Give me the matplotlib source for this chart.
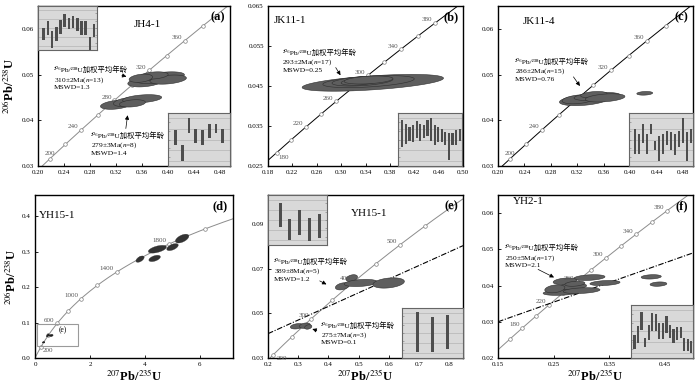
import numpy as np
import matplotlib
matplotlib.use("Agg")
import matplotlib.pyplot as plt
from matplotlib.patches import Rectangle

plt.rcParams["font.family"] = ["Liberation Serif", "Noto Sans CJK SC", "DejaVu Sans"]
plt.rcParams["mathtext.fontset"] = "stix"

# decay constants (1/yr) for the concordia curve
L238 = 1.55125e-10
L235 = 9.8485e-10

# ─── data ────────────────────────────────────────────────────────────────────
# error ellipses: (207/235 centre, 206/238 centre, half-width x, half-height y, rho)
ELL_A = [(0.365, 0.0484, 0.027, 0.0011, 0.35), (0.380, 0.0491, 0.030, 0.0011, 0.35),
         (0.395, 0.0496, 0.030, 0.0010, 0.35), (0.400, 0.0489, 0.028, 0.0010, 0.35),
         (0.378, 0.0498, 0.022, 0.0008, 0.3), (0.358, 0.0492, 0.018, 0.0009, 0.3),
         (0.320, 0.0434, 0.024, 0.0010, 0.35), (0.338, 0.0440, 0.022, 0.0010, 0.35),
         (0.360, 0.0447, 0.030, 0.0009, 0.35), (0.345, 0.0437, 0.020, 0.0008, 0.3)]
ELL_B = [(0.352, 0.0458, 0.116, 0.0021, 0.55), (0.345, 0.0461, 0.075, 0.0015, 0.45),
         (0.335, 0.0462, 0.050, 0.0012, 0.4), (0.330, 0.0461, 0.030, 0.0009, 0.35),
         (0.345, 0.0465, 0.040, 0.0010, 0.35)]
ELL_C = [(0.330, 0.0444, 0.037, 0.0012, 0.35), (0.322, 0.0446, 0.025, 0.0010, 0.35),
         (0.350, 0.0452, 0.035, 0.0009, 0.35), (0.345, 0.0456, 0.020, 0.0007, 0.3),
         (0.362, 0.0449, 0.030, 0.0009, 0.35), (0.422, 0.0459, 0.012, 0.0004, 0.2)]
ELL_D = [(3.82, 0.279, 0.15, 0.0090, 0.55), (4.45, 0.307, 0.33, 0.0110, 0.55),
         (4.35, 0.281, 0.21, 0.0090, 0.5), (5.00, 0.313, 0.21, 0.0100, 0.55),
         (5.35, 0.337, 0.245, 0.0125, 0.55)]
ELL_E = [(0.446, 0.0621, 0.023, 0.0016, 0.35), (0.477, 0.0658, 0.019, 0.0015, 0.35),
         (0.507, 0.0636, 0.055, 0.0016, 0.3), (0.599, 0.0636, 0.052, 0.0023, 0.3),
         (0.296, 0.0442, 0.022, 0.0012, 0.3), (0.322, 0.0445, 0.018, 0.0012, 0.3),
         (0.333, 0.0439, 0.012, 0.0010, 0.3)]
ELL_F = [(0.314, 0.0422, 0.028, 0.0008, 0.3), (0.270, 0.0412, 0.021, 0.0009, 0.3),
         (0.342, 0.0407, 0.027, 0.0007, 0.3), (0.282, 0.0397, 0.027, 0.0009, 0.3),
         (0.264, 0.0381, 0.033, 0.0008, 0.3), (0.300, 0.0386, 0.033, 0.0008, 0.3),
         (0.252, 0.0391, 0.018, 0.0011, 0.3), (0.288, 0.0405, 0.018, 0.0007, 0.3),
         (0.425, 0.0424, 0.018, 0.0006, 0.2), (0.438, 0.0404, 0.015, 0.0006, 0.2)]

# concordia age marks (Ma) and which ones carry a label
MARKS_A = [200, 220, 240, 260, 280, 300, 320, 340, 360, 380]
LABELS_A = [200, 240, 280, 320, 360]
MARKS_B = [180, 200, 220, 240, 260, 280, 300, 320, 340, 360, 380]
LABELS_B = [180, 220, 260, 300, 340, 380]
MARKS_C = [200, 220, 240, 260, 280, 300, 320, 340, 360, 380]
LABELS_C = [200, 240, 320, 360]
MARKS_D = [200, 400, 600, 800, 1000, 1200, 1400, 1600, 1800, 2000]
LABELS_D = [200, 600, 1000, 1400, 1800]
MARKS_E = [200, 250, 300, 350, 400, 450, 500, 550, 600]
LABELS_E = [200, 300, 400, 500]
MARKS_F = [160, 180, 200, 220, 240, 260, 280, 300, 320, 340, 360, 380]
LABELS_F = [180, 220, 260, 300, 340, 380]

# discordia (intercept, slope) in 207/235 vs 206/238 space
DISC_E = (0.02868, 0.0611)
DISC_F = (0.02186, 0.0543)

# weighted-mean insets: (low, high) age of each bar, Ma
BARS_A1 = [(299, 310), (304, 316), (292, 307), (298, 311), (305, 317), (311, 323), (309, 319),
           (310, 321), (307, 319), (304, 316), (304, 316), (290, 302), (302, 314)]
BARS_A2 = [(276, 287), (264, 276), (285, 296), (277, 288), (276, 287), (281, 292), (285, 292),
           (277, 288)]
BARS_B = [(288, 313), (291, 310), (294, 307), (293, 309), (296, 312), (294, 310), (296, 309),
          (298, 313), (294, 315), (290, 309), (293, 307), (293, 305), (290, 302), (276, 301),
          (290, 301), (290, 304), (294, 305)]
BARS_C = [(277, 291), (277, 288), (283, 294), (277, 288), (288, 294), (279, 284), (273, 287),
          (277, 288), (282, 290), (279, 289), (276, 288), (281, 290), (283, 297), (273, 289),
          (283, 291)]
BARS_E1 = [(377, 425), (350, 393), (360, 411), (348, 394), (355, 403)]
BARS_E2 = [(250, 313), (250, 305), (254, 309)]
BARS_F = [(230, 246), (237, 256), (252, 272), (232, 243), (240, 257), (251, 271), (251, 270),
          (242, 260), (242, 260), (248, 268), (243, 257), (237, 253), (240, 255), (243, 255),
          (228, 243), (228, 241), (226, 239)]

SAMPLES = ["JH4-1", "JK11-1", "JK11-4", "YH15-1", "YH15-1", "YH2-1"]
PANEL_TAGS = ["(a)", "(b)", "(c)", "(d)", "(e)", "(f)"]
MEAN_HEAD = "²⁰⁶Pb/²³⁸U加权平均年龄"
MEAN_A1 = "310±2Ma($n$=13)\nMSWD=1.3"
MEAN_A2 = "279±3Ma($n$=8)\nMSWD=1.4"
MEAN_B = "293±2Ma($n$=17)\nMSWD=0.25"
MEAN_C = "286±2Ma($n$=15)\nMSWD=0.76"
MEAN_E1 = "389±8Ma($n$=5)\nMSWD=1.2"
MEAN_E2 = "275±7Ma($n$=3)\nMSWD=0.1"
MEAN_F = "250±5Ma($n$=17)\nMSWD=2.1"

XLAB = r"$^{207}$Pb/$^{235}$U"
YLAB = r"$^{206}$Pb/$^{238}$U"


def concordia(t_ma):
    t = np.asarray(t_ma, dtype=float) * 1e6
    return np.expm1(L235 * t), np.expm1(L238 * t)


def ellipse_xy(cx, cy, sx, sy, rho, n=90):
    a = np.linspace(0, 2 * np.pi, n)
    u, v = np.cos(a), np.sin(a)
    return cx + sx * u, cy + sy * (rho * u + np.sqrt(1 - rho ** 2) * v)


def px_rect(l, t, r, b):
    return [l / 700, 1 - b / 390, (r - l) / 700, (b - t) / 390]


fig = plt.figure(figsize=(7, 3.9), dpi=100)


def setup(ax, xlim, ylim, xticks, yticks, xfmt, yfmt):
    ax.set_xlim(*xlim)
    ax.set_ylim(*ylim)
    ax.set_xticks(xticks)
    ax.set_yticks(yticks)
    ax.set_xticklabels([xfmt.format(v) for v in xticks])
    ax.set_yticklabels([yfmt.format(v) for v in yticks])
    ax.tick_params(direction="in", length=2, width=0.6, labelsize=5, pad=3)
    for s in ax.spines.values():
        s.set_linewidth(1.0)


def draw_concordia(ax, marks, labels, color, t_max, special=None):
    t = np.linspace(1, t_max, 800)
    x, y = concordia(t)
    ax.plot(x, y, color=color, lw=0.7, zorder=1)
    mx, my = concordia(marks)
    ax.plot(mx, my, "o", ms=2.6, mfc="white", mec="#808080", mew=0.5, zorder=2)
    special = special or {}
    for age in labels:
        lx, ly = concordia(age)
        off, ha, va = special.get(age, ((-2, 0.5), "right", "bottom"))
        ax.annotate(str(age), (lx, ly), xytext=off, textcoords="offset points",
                    ha=ha, va=va, fontsize=5, color="#555555", zorder=5)


def draw_ellipses(ax, ells, face="#5e5e5e", edge="#2e2e2e", lw=0.4):
    for cx, cy, sx, sy, rho in ells:
        ex, ey = ellipse_xy(cx, cy, sx, sy, rho)
        ax.fill(ex, ey, facecolor=face, edgecolor=edge, lw=lw, zorder=3)


def mean_note(ax, x, y, body, tail, head):
    ax.text(x, y, MEAN_HEAD, fontsize=5.3, va="center", ha="left", zorder=6)
    ax.annotate(body, (x, y), xytext=(0, -3.8), textcoords="offset points",
                fontsize=5.3, va="top", ha="left", linespacing=1.15, zorder=6)
    ax.annotate("", xy=head, xytext=tail,
                arrowprops=dict(arrowstyle="-|>", color="black", lw=0.5,
                                mutation_scale=6), zorder=6)


def draw_inset(rect, bars, ylim, f0, d, bw_px, tick_side):
    ins = fig.add_axes(rect)
    ins.set_facecolor("#d9d9d9")
    lo = np.array([b[0] for b in bars], dtype=float)
    hi = np.array([b[1] for b in bars], dtype=float)
    xs = np.arange(1, len(bars) + 1)
    x0 = 1 - f0 / d
    x1 = x0 + 1 / d
    ins.set_xlim(x0, x1)
    ins.set_ylim(*ylim)
    for fr in (0.1, 0.3, 0.5, 0.7, 0.9):
        ins.axhline(ylim[0] + fr * (ylim[1] - ylim[0]), color="#bababa", lw=0.6, zorder=1)
    width = bw_px / (rect[2] * 700) * (x1 - x0)
    ins.bar(xs, hi - lo, bottom=lo, width=width, color="#4e4e4e", zorder=2)
    ins.set_xticks([])
    ins.set_yticks(np.linspace(ylim[0], ylim[1], 7)[1:-1])
    ins.set_yticklabels([])
    ins.tick_params(axis="y", direction="in", length=1.5, width=0.4, colors="#777777",
                    left=(tick_side == "left"), right=(tick_side == "right"))
    for s in ins.spines.values():
        s.set_color("#666666")
        s.set_linewidth(0.8)
    return ins


def tag(ax, i, x, y):
    ax.text(x, y, SAMPLES[i], fontsize=8, ha="left", va="center", zorder=6)
    ax.text(0.975, 0.965, PANEL_TAGS[i], transform=ax.transAxes, fontsize=9,
            fontweight="bold", ha="right", va="top", zorder=6)


def disc(ax, line):
    b, m = line
    ax.axline((0, b), slope=m, color="black", lw=0.8, ls=(0, (5, 1.5, 1, 1.5)), zorder=2)


# ─── (a) JH4-1 ───────────────────────────────────────────────────────────────
ax = fig.add_axes(px_rect(38, 6, 230, 166))
setup(ax, (0.20, 0.495), (0.03, 0.065), [0.20, 0.24, 0.28, 0.32, 0.36, 0.40, 0.44, 0.48],
      [0.03, 0.04, 0.05, 0.06], "{:.2f}", "{:.2f}")
draw_concordia(ax, MARKS_A, LABELS_A, "#8c8c8c", 420,
               {200: ((0, 2.5), "center", "bottom")})
draw_ellipses(ax, ELL_A)
mean_note(ax, 0.2245, 0.0511, MEAN_A1, (0.3247, 0.0500), (0.340, 0.0494))
mean_note(ax, 0.2813, 0.0367, MEAN_A2, (0.3344, 0.0376), (0.3382, 0.0417))
tag(ax, 0, 0.347, 0.0610)
ax.set_ylabel(YLAB, fontsize=9, fontweight="bold", labelpad=3)
draw_inset(px_rect(38, 6, 97, 50), BARS_A1, (290, 330), 0.096, 0.0711, 2.6, "right")
draw_inset(px_rect(168, 113, 230, 166), BARS_A2, (260, 300), 0.123, 0.1084, 2.6, "left")

# ─── (b) JK11-1 ──────────────────────────────────────────────────────────────
ax = fig.add_axes(px_rect(268, 6, 463, 166))
setup(ax, (0.18, 0.50), (0.025, 0.065),
      [0.18, 0.22, 0.26, 0.30, 0.34, 0.38, 0.42, 0.46, 0.50],
      [0.025, 0.035, 0.045, 0.055, 0.065], "{:.2f}", "{:.3f}")
draw_concordia(ax, MARKS_B, LABELS_B, "black", 420,
               {180: ((1.5, -1.5), "left", "top")})
draw_ellipses(ax, ELL_B)
mean_note(ax, 0.2034, 0.0534, MEAN_B, (0.2887, 0.0502), (0.3014, 0.0471))
tag(ax, 1, 0.1896, 0.0613)
draw_inset(px_rect(398, 113, 462, 166), BARS_B, (270, 320), 0.068, 0.056, 2.2, "left")

# ─── (c) JK11-4 ──────────────────────────────────────────────────────────────
ax = fig.add_axes(px_rect(498, 6, 693, 166))
setup(ax, (0.20, 0.495), (0.03, 0.065), [0.20, 0.24, 0.28, 0.32, 0.36, 0.40, 0.44, 0.48],
      [0.03, 0.04, 0.05, 0.06], "{:.2f}", "{:.2f}")
draw_concordia(ax, MARKS_C, LABELS_C, "black", 420,
               {200: ((0, 2.5), "center", "bottom")})
draw_ellipses(ax, ELL_C)
mean_note(ax, 0.225, 0.0529, MEAN_C, (0.3117, 0.0500), (0.3263, 0.0470))
tag(ax, 2, 0.2372, 0.0617)
draw_inset(px_rect(629, 113, 693, 166), BARS_C, (270, 300), 0.094, 0.0625, 2.4, "left")

# ─── (d) YH15-1 overview ─────────────────────────────────────────────────────
ax = fig.add_axes(px_rect(35, 195, 233, 358))
setup(ax, (0, 7.2), (0, 0.46), [0, 2, 4, 6], [0.0, 0.1, 0.2, 0.3, 0.4], "{:.0f}", "{:.1f}")
draw_concordia(ax, MARKS_D, LABELS_D, "#8c8c8c", 2200,
               {200: ((1.5, -1.0), "left", "top")})
draw_ellipses(ax, ELL_D, face="#333333", edge="#333333", lw=0.2)
draw_ellipses(ax, ELL_E, face="#222222", edge="#222222", lw=0.6)
ax.add_patch(Rectangle((0.08, 0.034), 1.47, 0.062, fill=False, ec="#9a9a9a", lw=0.8, zorder=2))
ax.text(1.0, 0.079, PANEL_TAGS[4], fontsize=5.5, ha="center", va="center")
tag(ax, 3, 0.14, 0.402)
ax.set_ylabel(YLAB, fontsize=9, fontweight="bold", labelpad=2)
ax.set_xlabel(XLAB, fontsize=9, fontweight="bold", labelpad=1)

# ─── (e) YH15-1 detail ───────────────────────────────────────────────────────
ax = fig.add_axes(px_rect(268, 195, 463, 358))
setup(ax, (0.2, 0.845), (0.03, 0.103), [0.2, 0.3, 0.4, 0.5, 0.6, 0.7, 0.8],
      [0.03, 0.05, 0.07, 0.09], "{:.1f}", "{:.2f}")
draw_concordia(ax, MARKS_E, LABELS_E, "#8c8c8c", 700,
               {200: ((2.5, -1.0), "left", "top")})
disc(ax, DISC_E)
draw_ellipses(ax, ELL_E)
mean_note(ax, 0.219, 0.0733, MEAN_E1, (0.363, 0.0651), (0.4015, 0.0624))
mean_note(ax, 0.374, 0.0449, MEAN_E2, (0.370, 0.0419), (0.338, 0.0434))
tag(ax, 4, 0.475, 0.0949)
ax.set_xlabel(XLAB, fontsize=9, fontweight="bold", labelpad=1)
draw_inset(px_rect(268, 195, 327, 245), BARS_E1, (340, 440), 0.205, 0.166, 3.0, "right")
draw_inset(px_rect(402, 308, 463, 358), BARS_E2, (240, 320), 0.257, 0.246, 3.6, "left")

# ─── (f) YH2-1 ───────────────────────────────────────────────────────────────
ax = fig.add_axes(px_rect(498, 195, 693, 358))
setup(ax, (0.15, 0.50), (0.02, 0.065), [0.15, 0.25, 0.35, 0.45],
      [0.02, 0.03, 0.04, 0.05, 0.06], "{:.2f}", "{:.2f}")
draw_concordia(ax, MARKS_F, LABELS_F, "#8c8c8c", 420)
disc(ax, DISC_F)
draw_ellipses(ax, ELL_F)
mean_note(ax, 0.162, 0.0505, MEAN_F, (0.2175, 0.0448), (0.255, 0.0419))
tag(ax, 5, 0.177, 0.0633)
ax.set_xlabel(XLAB, fontsize=9, fontweight="bold", labelpad=1)
draw_inset(px_rect(631, 305, 693, 358), BARS_F, (220, 280), 0.055, 0.0574, 2.2, "left")

fig.savefig("out.png", dpi=100)
